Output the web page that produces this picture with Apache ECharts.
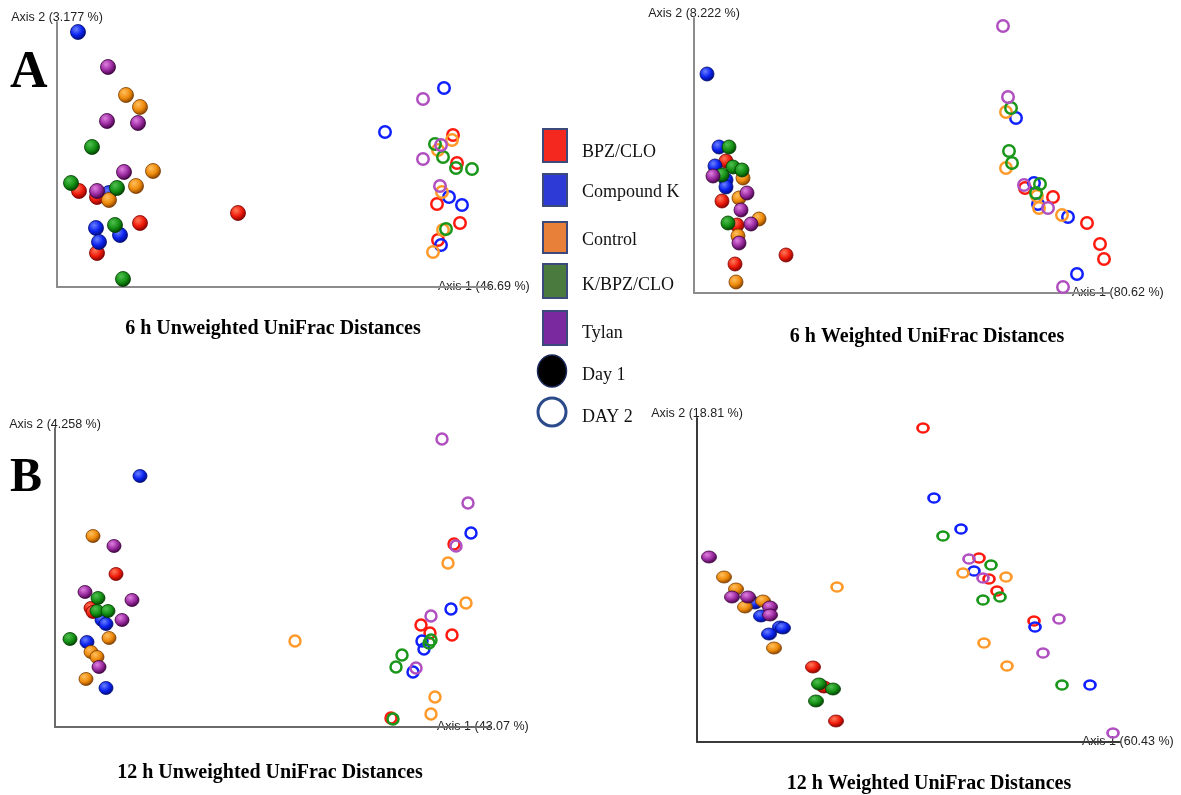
<!DOCTYPE html>
<html><head><meta charset="utf-8">
<script src="https://cdn.jsdelivr.net/npm/echarts@6/dist/echarts.min.js"></script>
<style>html,body{margin:0;padding:0;background:#fff}#c{width:1181px;height:795px}</style>
</head><body><div id="c"></div>
<script>
// Groups (legend order)
const groups = ['BPZ/CLO', 'Compound K', 'Control', 'K/BPZ/CLO', 'Tylan'];
const panelTitles = ['6 h Unweighted UniFrac Distances', '6 h Weighted UniFrac Distances',
                     '12 h Unweighted UniFrac Distances', '12 h Weighted UniFrac Distances'];
const axis1Names = ['Axis 1 (46.69 %)', 'Axis 1 (80.62 %)', 'Axis 1 (43.07 %)', 'Axis 1 (60.43 %)'];
const axis2Names = ['Axis 2 (3.177 %)', 'Axis 2 (8.222 %)', 'Axis 2 (4.258 %)', 'Axis 2 (18.81 %)'];

// ---- 6 h Unweighted (ordination coordinates, arbitrary units) ----
const u6_d1_bpz = [[22,96],[40,90],[181,74],[83,64],[40,34]];
const u6_d1_ck  = [[21,255],[52,94],[39,59],[63,52],[42,45]];
const u6_d1_ctl = [[69,192],[83,180],[96,116],[79,101],[52,87]];
const u6_d1_kbc = [[35,140],[14,104],[60,99],[58,62],[66,8]];
const u6_d1_ty  = [[51,220],[50,166],[81,164],[67,115],[40,96]];
const u6_d2_bpz = [[396,152],[400,124],[380,83],[403,64],[381,47]];
const u6_d2_ck  = [[387,199],[328,155],[392,90],[405,82],[384,42]];
const u6_d2_ctl = [[395,147],[381,137],[385,95],[386,57],[376,35]];
const u6_d2_kbc = [[378,143],[386,130],[399,119],[415,118],[389,58]];
const u6_d2_ty  = [[366,188],[384,142],[366,128],[383,101]];

// ---- 6 h Weighted ----
const w6_d1_bpz = [[32,132],[28,92],[43,68],[92,38],[41,29]];
const w6_d1_ck  = [[13,219],[25,146],[21,127],[32,113],[32,106]];
const w6_d1_ctl = [[49,115],[45,95],[65,74],[44,57],[42,11]];
const w6_d1_kbc = [[35,146],[39,126],[48,123],[28,118],[34,70]];
const w6_d1_ty  = [[19,117],[53,100],[47,83],[57,69],[45,50]];
const w6_d2_bpz = [[331,105],[359,96],[393,70],[406,49],[410,34]];
const w6_d2_ck  = [[322,175],[340,110],[344,89],[374,76],[383,19]];
const w6_d2_ctl = [[312,181],[312,125],[343,97],[345,85],[368,78]];
const w6_d2_kbc = [[317,185],[315,142],[318,130],[346,109],[342,100]];
const w6_d2_ty  = [[309,267],[314,196],[330,108],[354,85],[369,6]];

// ---- 12 h Unweighted ----
const u12_d1_bpz = [[61,153],[36,119],[38,115]];
const u12_d1_ck  = [[85,251],[47,107],[51,103],[32,85],[51,39]];
const u12_d1_ctl = [[38,191],[54,89],[36,75],[42,70],[31,48]];
const u12_d1_kbc = [[43,129],[42,116],[53,116],[15,88]];
const u12_d1_ty  = [[59,181],[30,135],[77,127],[67,107],[44,60]];
const u12_d2_bpz = [[399,183],[366,102],[375,94],[397,92],[336,9]];
const u12_d2_ck  = [[416,194],[396,118],[367,86],[369,78],[358,55]];
const u12_d2_ctl = [[240,86],[393,164],[411,124],[380,30],[376,13]];
const u12_d2_kbc = [[376,87],[374,84],[347,72],[341,60],[338,8]];
const u12_d2_ty  = [[387,288],[413,224],[401,181],[376,111],[361,59]];

// ---- 12 h Weighted ----
const w12_d1_bpz = [[116,75],[127,55],[139,21]];
const w12_d1_ck  = [[58,139],[64,126],[83,115],[86,114],[72,108]];
const w12_d1_ctl = [[27,165],[39,153],[66,141],[48,135],[77,94]];
const w12_d1_kbc = [[122,58],[136,53],[119,41]];
const w12_d1_ty  = [[12,185],[35,145],[51,145],[73,135],[73,127]];
const w12_d2_bpz = [[226,314],[282,184],[292,163],[300,151],[337,121]];
const w12_d2_ck  = [[237,244],[264,213],[277,171],[338,115],[393,57]];
const w12_d2_ctl = [[140,155],[266,169],[309,165],[287,99],[310,76]];
const w12_d2_kbc = [[246,206],[294,177],[303,145],[286,142],[365,57]];
const w12_d2_ty  = [[272,183],[286,164],[362,123],[346,89],[416,9]];

const panelData = [
  {d1:[u6_d1_bpz,u6_d1_ck,u6_d1_ctl,u6_d1_kbc,u6_d1_ty], d2:[u6_d2_bpz,u6_d2_ck,u6_d2_ctl,u6_d2_kbc,u6_d2_ty]},
  {d1:[w6_d1_bpz,w6_d1_ck,w6_d1_ctl,w6_d1_kbc,w6_d1_ty], d2:[w6_d2_bpz,w6_d2_ck,w6_d2_ctl,w6_d2_kbc,w6_d2_ty]},
  {d1:[u12_d1_bpz,u12_d1_ck,u12_d1_ctl,u12_d1_kbc,u12_d1_ty], d2:[u12_d2_bpz,u12_d2_ck,u12_d2_ctl,u12_d2_kbc,u12_d2_ty]},
  {d1:[w12_d1_bpz,w12_d1_ck,w12_d1_ctl,w12_d1_kbc,w12_d1_ty], d2:[w12_d2_bpz,w12_d2_ck,w12_d2_ctl,w12_d2_kbc,w12_d2_ty]}
];

// ---- styling / layout ----
const ballCols = [
  ['#ff7a5a','#ee1a0a','#7a0000'],
  ['#6a80ff','#0a22ee','#000a70'],
  ['#ffc060','#ee8a0a','#7a3a00'],
  ['#50c050','#149014','#003a00'],
  ['#e080e0','#9a2aa0','#3a003a']
];
const ringCols = ['#ff1a10','#1020ff','#ff9a2a','#1a961a','#b050c0'];
const legendCols = ['#f4281e','#2e3ad6','#e8803a','#4a7a3e','#7a2a9e'];

const grids = [
  {left:57,  top:22,  width:433, height:265},
  {left:694, top:18,  width:416, height:275},
  {left:55,  top:428, width:435, height:299},
  {left:697, top:418, width:423, height:324}
];
const xNameGap = [-52, -38, -53, -38];
const yNameGap = [4, 4, 3, 4];
const axisCol = ['#8c8c8c', '#8c8c8c', '#6a6a6a', '#3a3a3a'];
const ballSize = [[15,15],[14,14],[14,13],[15,12]];
const ringSize = [[11.5,11.5],[11.5,11.5],[11,11],[11,9]];

const xAxis = [], yAxis = [], series = [];
grids.forEach((g, p) => {
  xAxis.push({type:'value', gridIndex:p, min:0, max:g.width, name:axis1Names[p], nameLocation:'end',
    nameGap:xNameGap[p], nameTextStyle:{color:'#222', fontSize:12.5, fontFamily:'Liberation Sans', align:'left', verticalAlign:'middle'},
    axisLine:{show:true, onZero:false, lineStyle:{color:axisCol[p], width:2}}, axisTick:{show:false},
    axisLabel:{show:false}, splitLine:{show:false}});
  yAxis.push({type:'value', gridIndex:p, min:0, max:g.height, name:axis2Names[p], nameLocation:'end',
    nameGap:yNameGap[p], nameTextStyle:{color:'#222', fontSize:12.5, fontFamily:'Liberation Sans', align:'center', verticalAlign:'middle'},
    axisLine:{show:true, onZero:false, lineStyle:{color:axisCol[p], width:2}}, axisTick:{show:false},
    axisLabel:{show:false}, splitLine:{show:false}});
  groups.forEach((name, gi) => {
    const c = ballCols[gi];
    series.push({type:'scatter', name:name, xAxisIndex:p, yAxisIndex:p, data:panelData[p].d1[gi],
      symbol:'circle', symbolSize:ballSize[p], silent:true, z:3,
      itemStyle:{opacity:1, borderColor:c[2], borderWidth:0.8,
        color:{type:'radial', x:0.38, y:0.33, r:0.7, colorStops:[
          {offset:0,color:c[0]},{offset:0.55,color:c[1]},{offset:1,color:c[2]}]}}});
  });
  groups.forEach((name, gi) => {
    series.push({type:'scatter', name:name, xAxisIndex:p, yAxisIndex:p, data:panelData[p].d2[gi],
      symbol:'circle', symbolSize:ringSize[p], silent:true, z:4,
      itemStyle:{opacity:1, color:'rgba(255,255,255,0)', borderColor:ringCols[gi], borderWidth:2.5}});
  });
});

// ---- graphics: panel letters, titles, legend ----
const graphic = [];
const serif = '"Liberation Serif", "Times New Roman", serif';
graphic.push({type:'text', style:{text:'A', x:10, y:74, font:'bold 52px ' + serif, fill:'#000', textVerticalAlign:'middle'}});
graphic.push({type:'text', style:{text:'B', x:10, y:479, font:'bold 48px ' + serif, fill:'#000', textVerticalAlign:'middle'}});
const titlePos = [[273,329],[927,337],[270,773],[929,784]];
panelTitles.forEach((t, i) => {
  graphic.push({type:'text', style:{text:t, x:titlePos[i][0], y:titlePos[i][1], font:'bold 20px ' + serif,
    fill:'#000', textAlign:'center', textVerticalAlign:'middle'}});
});
const sqTop = [129,174,222,264,311];
const sqH = [33,32,31,34,34];
const txtY = [152,192,240,285,333];
groups.forEach((g, i) => {
  graphic.push({type:'rect', shape:{x:543, y:sqTop[i], width:24, height:sqH[i]},
    style:{fill:legendCols[i], stroke:'#3b4a7a', lineWidth:2}});
  graphic.push({type:'text', style:{text:g, x:582, y:txtY[i], font:'18px ' + serif, fill:'#111', textVerticalAlign:'middle'}});
});
graphic.push({type:'ellipse', shape:{cx:552, cy:371, rx:14.5, ry:16}, style:{fill:'#000', stroke:'#1a2a5a', lineWidth:1.5}});
graphic.push({type:'text', style:{text:'Day 1', x:582, y:375, font:'18px ' + serif, fill:'#111', textVerticalAlign:'middle'}});
graphic.push({type:'circle', shape:{cx:552, cy:412, r:14}, style:{fill:'#fff', stroke:'#2a4a8a', lineWidth:3}});
graphic.push({type:'text', style:{text:'DAY 2', x:582, y:417, font:'18px ' + serif, fill:'#111', textVerticalAlign:'middle'}});

const chart = echarts.init(document.getElementById('c'), null, {renderer:'canvas'});
chart.setOption({
  backgroundColor:'#fff',
  animation:false,
  grid:grids.map(g => Object.assign({containLabel:false}, g)),
  xAxis:xAxis, yAxis:yAxis, series:series, graphic:graphic
});
</script></body></html>
